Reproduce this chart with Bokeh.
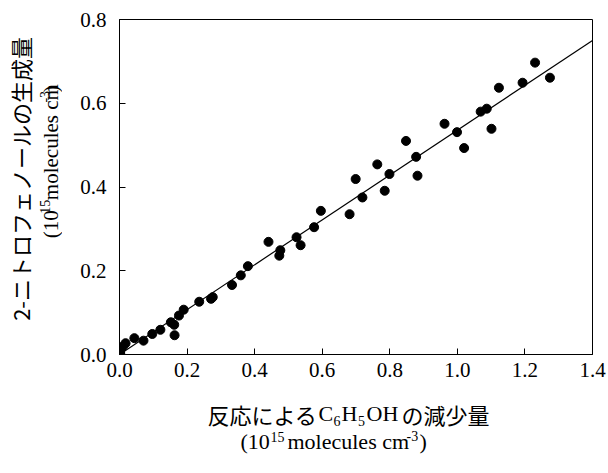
from bokeh.plotting import figure
from bokeh.models import Label, Range1d, FixedTicker, NumeralTickFormatter
from bokeh.layouts import row, column
from bokeh.embed import file_html
from bokeh.resources import INLINE

# ---- data ----
phenol_loss = [1.230, 1.274, 1.193, 1.123, 1.069, 1.087, 1.101, 0.999, 0.962, 1.020,
               0.848, 0.878, 0.882, 0.763, 0.799, 0.785, 0.699, 0.719, 0.681, 0.596,
               0.576, 0.524, 0.536, 0.441, 0.476, 0.473, 0.380, 0.359, 0.333, 0.276,
               0.271, 0.236, 0.190, 0.176, 0.152, 0.162, 0.163, 0.121, 0.097, 0.071,
               0.044, 0.018, 0.010, 0.004, 0.002, 0.002, 0.000]
nitrophenol_yield = [0.697, 0.661, 0.649, 0.637, 0.580, 0.587, 0.539, 0.531, 0.551, 0.493,
                     0.510, 0.472, 0.427, 0.454, 0.431, 0.391, 0.419, 0.375, 0.335, 0.343,
                     0.304, 0.280, 0.261, 0.269, 0.249, 0.236, 0.211, 0.189, 0.166, 0.137,
                     0.133, 0.126, 0.107, 0.093, 0.077, 0.071, 0.046, 0.059, 0.049, 0.033,
                     0.039, 0.027, 0.019, 0.014, 0.006, 0.002, 0.010]
fit_x = [0.0, 1.4]
fit_y = [0.0, 0.75]
x_ticks = [0.0, 0.2, 0.4, 0.6, 0.8, 1.0, 1.2, 1.4]
y_ticks = [0.0, 0.2, 0.4, 0.6, 0.8]

SERIF = "'Liberation Serif'"
CJK = "'Noto Sans CJK JP'"

PAGE_W, PAGE_H = 608, 473
YLAB_W = 62            # strip holding the y-axis title (left of the plot)
MAIN_H = 395           # plot height; the x-axis title strip lies below, full width
FL, FR, FT, FB = 119, 592, 19, 354   # frame edges on the page (px)
X0, X1, Y0, Y1 = 0.0, 1.4, 0.0, 0.8

main_w = PAGE_W - YLAB_W
p = figure(width=main_w, height=MAIN_H, output_backend="svg", toolbar_location=None,
           title=None,
           x_range=Range1d(X0, X1), y_range=Range1d(Y0, Y1),
           min_border_left=FL - YLAB_W, min_border_right=PAGE_W - FR,
           min_border_top=FT, min_border_bottom=MAIN_H - FB)
p.background_fill_color = "white"
p.border_fill_color = "white"
p.outline_line_color = "black"
p.outline_line_width = 1
p.xgrid.visible = False
p.ygrid.visible = False

for ax, ticks in ((p.xaxis, x_ticks), (p.yaxis, y_ticks)):
    ax.ticker = FixedTicker(ticks=ticks)
    ax.formatter = NumeralTickFormatter(format="0.0")
    ax.major_tick_in = 6
    ax.major_tick_out = 0
    ax.minor_tick_line_color = None
    ax.axis_line_color = "black"
    ax.major_tick_line_color = "black"
    ax.major_label_text_font = SERIF
    ax.major_label_text_font_size = "21px"
    ax.major_label_text_color = "black"
p.xaxis.major_label_standoff = 8
p.yaxis.major_label_standoff = 13

p.line(fit_x, fit_y, line_color="black", line_width=1.2)
p.scatter(phenol_loss, nitrophenol_yield, size=9, marker="circle",
          fill_color="black", line_color="black")


def text_strip(w, h):
    f = figure(width=w, height=h, output_backend="svg", toolbar_location=None,
               title=None, x_axis_location=None, y_axis_location=None,
               x_range=Range1d(0, w), y_range=Range1d(0, h),
               min_border=0, min_border_left=0, min_border_right=0,
               min_border_top=0, min_border_bottom=0)
    f.grid.visible = False
    f.outline_line_color = None
    f.background_fill_color = "white"
    f.border_fill_color = "white"
    return f


ylab = text_strip(YLAB_W, MAIN_H)
xlab = text_strip(PAGE_W, PAGE_H - MAIN_H)


def piece(fig, oy, text, font, size, px, py, align="left", angle=0):
    # (px, py): page position of the text's baseline anchor (y down).
    # The label is anchored at the middle of its line box, ~0.36em above the
    # baseline (to the left of it for text rotated by 90 degrees).
    h = fig.height
    shift = 0.36 * size
    if angle == 0:
        ax_, ay_ = px, py - shift
    else:
        ax_, ay_ = px - shift, py
    fig.add_layout(Label(x=ax_, y=h - (ay_ - oy), text=text, text_font=font,
                         text_font_size=f"{size}px", text_color="black",
                         text_align=align, text_baseline="middle",
                         angle=angle, angle_units="deg"))


def xp(*a, **k):
    piece(xlab, MAIN_H, *a, **k)


def yp(*a, **k):
    piece(ylab, 0, *a, **k)


# x-axis title, line 1
xp("反応による", CJK, 22, 317, 421, "right")
xp("C", SERIF, 22, 318, 421)
xp("6", SERIF, 14, 333, 426)
xp("H", SERIF, 22, 341, 421)
xp("5", SERIF, 14, 357.5, 426)
xp("OH", SERIF, 22, 366, 421)
xp("の減少量", CJK, 22, 401, 421, "left")
# x-axis title, line 2
xp("(10", SERIF, 22, 240, 449)
xp("15", SERIF, 14, 270, 442)
xp("molecules cm", SERIF, 22, 287, 449)
xp("-3", SERIF, 14, 406, 441)
xp(")", SERIF, 22, 419, 449)

# y-axis title (rotated), line 1
yp("2-ニトロフェノールの生成量", CJK, 22, 27, 188, "center", 90)
# line 2
yp("(10", SERIF, 21, 58, 258, "left", 90)
yp("15", SERIF, 14, 50, 229, "left", 90)
yp("molecules cm", SERIF, 21, 58, 213, "left", 90)
yp("-3", SERIF, 14, 50, 98, "left", 90)
yp(")", SERIF, 21, 58, 86, "left", 90)

layout = column(row(ylab, p, spacing=0), xlab, spacing=0)
open("out.html", "w").write(file_html(layout, INLINE))
